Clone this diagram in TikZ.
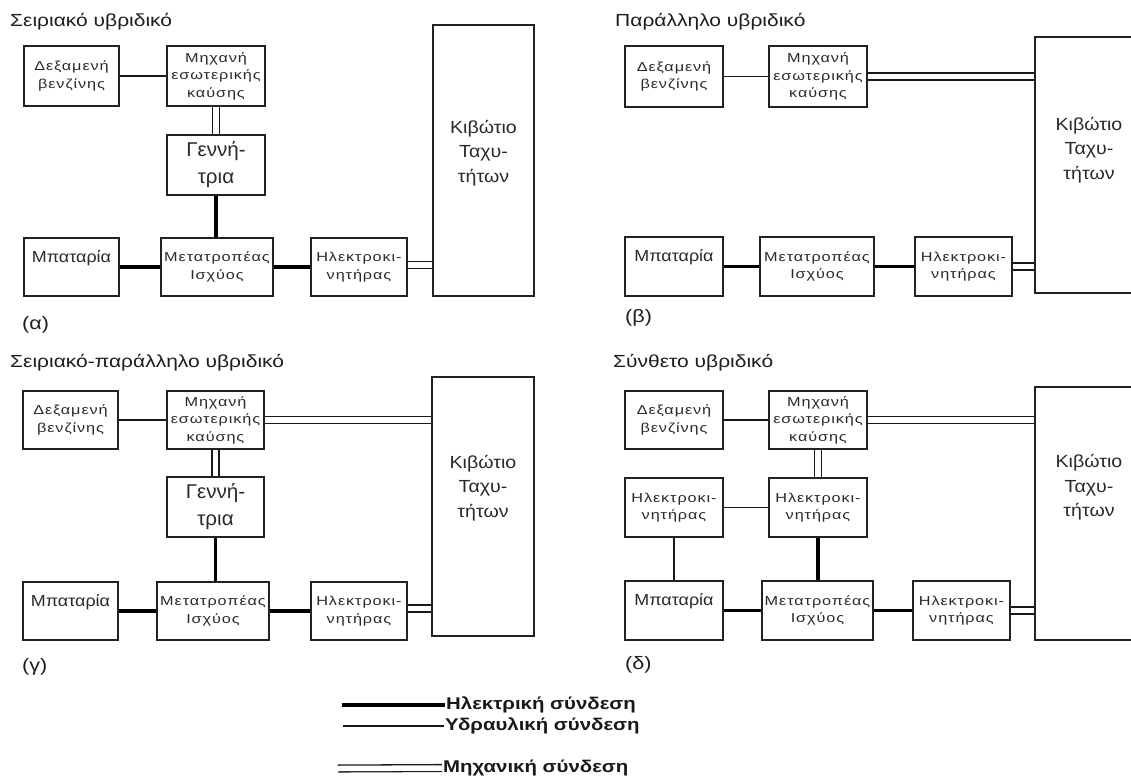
\documentclass[tikz,border=0pt]{standalone}
\usepackage{fontspec}
\setmainfont{Liberation Sans}
\newfontfamily\smallfont[FakeStretch=1.25,LetterSpace=7]{Liberation Sans}
\newfontfamily\titlefont[FakeStretch=1.2]{Liberation Sans}
\newfontfamily\widefont[FakeStretch=1.12]{Liberation Sans}
\newfontfamily\genfont[FakeStretch=1.03]{Liberation Sans}
\newfontfamily\legendfont[FakeStretch=1.2]{Liberation Sans}
\usetikzlibrary{backgrounds}
\definecolor{boxline}{HTML}{222222}
\definecolor{txt}{HTML}{2A2A2A}
\definecolor{ttl}{HTML}{1E1E1E}
\begin{document}
\begin{tikzpicture}[x=1pt,y=-1pt,
  box/.style={draw=boxline, line width=1.3pt, inner sep=0pt, align=center, text=txt,
    font=\smallfont\fontsize{13}{17.5}\selectfont},
  gentext/.style={font=\genfont\fontsize{20}{27}\selectfont},
  battext/.style={font=\widefont\fontsize{16}{18}\selectfont},
  gbtext/.style={inner sep=0pt, align=center, text=txt, font=\widefont\fontsize{17.5}{24.5}\selectfont},
  ttltext/.style={inner sep=0pt, anchor=base west, text=ttl, font=\titlefont\fontsize{17.5}{20}\selectfont},
  lbltext/.style={inner sep=0pt, anchor=west, text=ttl, font=\titlefont\fontsize{18}{20}\selectfont},
  legtext/.style={inner sep=1pt, anchor=west, text=black!90, font=\legendfont\bfseries\fontsize{17}{18}\selectfont},
  elec/.style={draw=black, line width=3.2pt},
  hyd/.style={draw=black!90, line width=1.4pt},
  mech/.style={draw=black!90, line width=1.3pt, double=white, double distance=5.5pt}
]
\useasboundingbox (0,0) rectangle (1131,778);
\clip (0,0) rectangle (1131,778);

% ---------------- panel (a)
\node[ttltext] (ttlA) at (10,27) {Σειριακό υβριδικό};
\node[box, minimum width=95, minimum height=60] (dexA) at (71.5,76) {Δεξαμενή\\βενζίνης};
\node[box, minimum width=98, minimum height=60] (mixA) at (216,76) {Μηχανή\\εσωτερικής\\καύσης};
\node[box, gentext, minimum width=98, minimum height=60] (genA) at (216,165) {Γεννή-\\τρια};
\node[box, battext, minimum width=95, minimum height=58] (batA) at (71.5,267) {\raisebox{5pt}[0pt][0pt]{Μπαταρία}};
\node[box, minimum width=112, minimum height=58] (conA) at (217,267) {Μετατροπέας\\Ισχύος};
\node[box, minimum width=96, minimum height=58] (motA) at (359,267) {Ηλεκτροκι-\\νητήρας};
\node[box, minimum width=101, minimum height=271] (gbA) at (483.5,160.5) {};
\node[gbtext] (gbtA) at (483.5,153) {Κιβώτιο\\Ταχυ-\\τήτων};
\node[lbltext] (lblA) at (22,325) {(α)};

% ---------------- panel (b)
\node[ttltext] (ttlB) at (615,27) {Παράλληλο υβριδικό};
\node[box, minimum width=98, minimum height=61] (dexB) at (674,76.5) {Δεξαμενή\\βενζίνης};
\node[box, minimum width=98, minimum height=61] (mixB) at (818,76.5) {Μηχανή\\εσωτερικής\\καύσης};
\node[box, battext, minimum width=98, minimum height=59] (batB) at (674,266.5) {\raisebox{5pt}[0pt][0pt]{Μπαταρία}};
\node[box, minimum width=114, minimum height=59] (conB) at (817,266.5) {Μετατροπέας\\Ισχύος};
\node[box, minimum width=97, minimum height=59] (motB) at (963.5,266.5) {Ηλεκτροκι-\\νητήρας};
\node[box, minimum width=101, minimum height=256] (gbB) at (1085.5,165) {};
\node[gbtext] (gbtB) at (1089,150) {Κιβώτιο\\Ταχυ-\\τήτων};
\node[lbltext] (lblB) at (625,318) {(β)};

% ---------------- panel (c)
\node[ttltext] (ttlC) at (10,367) {Σειριακό-παράλληλο υβριδικό};
\node[box, minimum width=95, minimum height=58] (dexC) at (70.5,420) {Δεξαμενή\\βενζίνης};
\node[box, minimum width=97, minimum height=58] (mixC) at (215.5,420) {Μηχανή\\εσωτερικής\\καύσης};
\node[box, gentext, minimum width=97, minimum height=60] (genC) at (215.5,507) {Γεννή-\\τρια};
\node[box, battext, minimum width=95, minimum height=58] (batC) at (70.5,611) {\raisebox{5pt}[0pt][0pt]{Μπαταρία}};
\node[box, minimum width=112, minimum height=58] (conC) at (213,611) {Μετατροπέας\\Ισχύος};
\node[box, minimum width=96, minimum height=58] (motC) at (359,611) {Ηλεκτροκι-\\νητήρας};
\node[box, minimum width=102, minimum height=259] (gbC) at (483,506.5) {};
\node[gbtext] (gbtC) at (483,488) {Κιβώτιο\\Ταχυ-\\τήτων};
\node[lbltext] (lblC) at (22,667) {(γ)};

% ---------------- panel (d)
\node[ttltext] (ttlD) at (613,367) {Σύνθετο υβριδικό};
\node[box, minimum width=98, minimum height=58] (dexD) at (674,420) {Δεξαμενή\\βενζίνης};
\node[box, minimum width=98, minimum height=58] (mixD) at (818,420) {Μηχανή\\εσωτερικής\\καύσης};
\node[box, minimum width=98, minimum height=59] (mlD) at (674,507.5) {Ηλεκτροκι-\\νητήρας};
\node[box, minimum width=98, minimum height=59] (mmD) at (818,507.5) {Ηλεκτροκι-\\νητήρας};
\node[box, battext, minimum width=98, minimum height=59] (batD) at (674,610.5) {\raisebox{5pt}[0pt][0pt]{Μπαταρία}};
\node[box, minimum width=111, minimum height=59] (conD) at (817.5,610.5) {Μετατροπέας\\Ισχύος};
\node[box, minimum width=97, minimum height=59] (motD) at (961.5,610.5) {Ηλεκτροκι-\\νητήρας};
\node[box, minimum width=101, minimum height=253] (gbD) at (1085.5,513.5) {};
\node[gbtext] (gbtD) at (1089,487.5) {Κιβώτιο\\Ταχυ-\\τήτων};
\node[lbltext] (lblD) at (625,665) {(δ)};

% ---------------- legend
\coordinate (l1) at (342,705);
\coordinate (l2) at (343,726);
\coordinate (l3) at (338,768.5);
\node[legtext] (leg1) at (445,705) {Ηλεκτρική σύνδεση};
\node[legtext] (leg2) at (444,726) {Υδραυλική σύνδεση};
\node[legtext] (leg3) at (442,768) {Μηχανική σύνδεση};

\begin{scope}[on background layer]
  \fill[white] (0,0) rectangle (1131,778);
  % (a)
  \draw[hyd] (dexA) -- (mixA);
  \draw[mech] (mixA) -- (genA);
  \draw[elec] (genA.south) -- (genA.south |- conA.north);
  \draw[elec] (batA) -- (conA);
  \draw[elec] (conA) -- (motA);
  \draw[mech] ([yshift=2pt]motA.east) -- ([yshift=2pt]motA.east -| gbA.west);
  % (b)
  \draw[hyd] (dexB) -- (mixB);
  \draw[mech] (mixB.east) -- (mixB.east -| gbB.west);
  \draw[elec] (batB) -- (conB);
  \draw[elec] (conB) -- (motB);
  \draw[mech] (motB.east) -- (motB.east -| gbB.west);
  % (c)
  \draw[hyd] (dexC) -- (mixC);
  \draw[mech] (mixC.east) -- (mixC.east -| gbC.west);
  \draw[mech] (mixC) -- (genC);
  \draw[elec] (genC.south) -- (genC.south |- conC.north);
  \draw[elec] (batC) -- (conC);
  \draw[elec] (conC) -- (motC);
  \draw[mech] ([yshift=2.5pt]motC.east) -- ([yshift=2.5pt]motC.east -| gbC.west);
  % (d)
  \draw[hyd] (dexD) -- (mixD);
  \draw[mech] (mixD.east) -- (mixD.east -| gbD.west);
  \draw[mech] (mixD) -- (mmD);
  \draw[hyd] (mlD) -- (mmD);
  \draw[hyd] (mlD) -- (batD);
  \draw[elec] (mmD.south) -- (mmD.south |- conD.north);
  \draw[elec] (batD) -- (conD);
  \draw[elec] (conD) -- (motD);
  \draw[mech] (motD.east) -- (motD.east -| gbD.west);
  % legend
  \draw[elec] (l1) -- (leg1.west);
  \draw[hyd] (l2) -- (leg2.west);
  \draw[mech] (l3) -- (leg3.west);
\end{scope}
\end{tikzpicture}
\end{document}
